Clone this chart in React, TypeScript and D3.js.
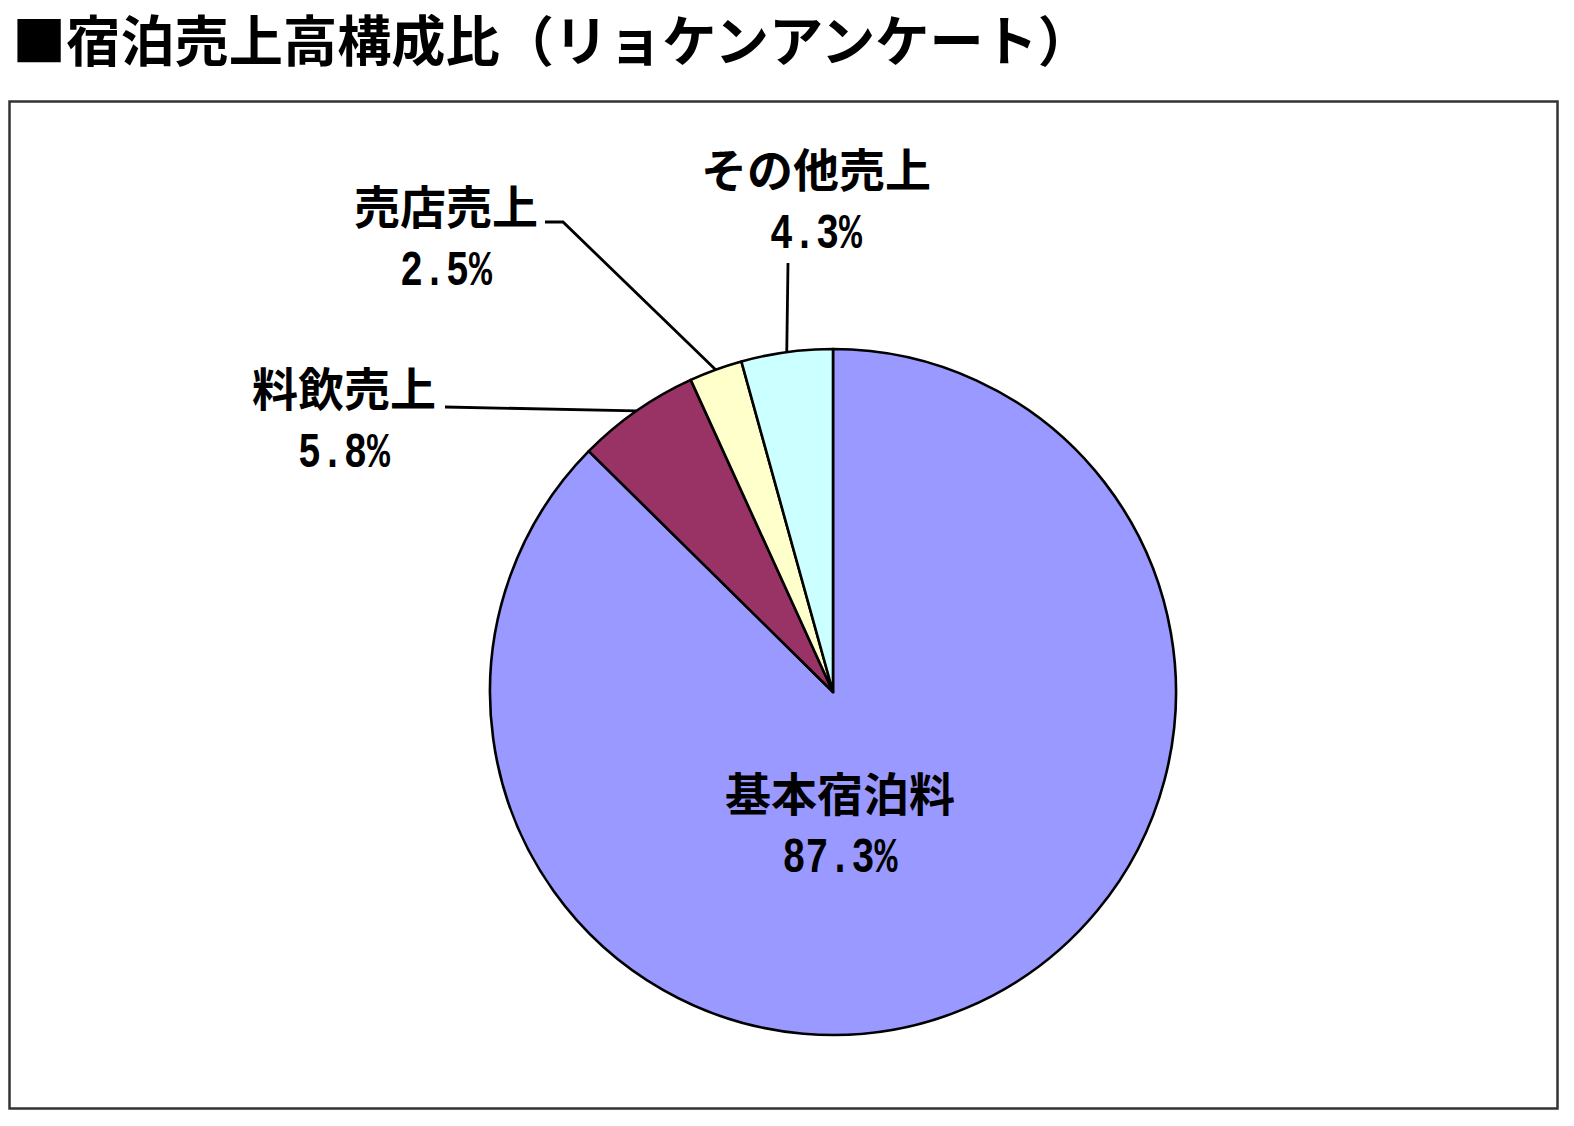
import React from "react";
import * as d3 from "d3";

const categories = ["基本宿泊料", "料飲売上", "売店売上", "その他売上"];
const values = [87.3, 5.8, 2.5, 4.3];
const valueLabels = ["87.3%", "5.8%", "2.5%", "4.3%"];
const colors = ["#9999FF", "#993366", "#FFFFCC", "#CCFFFF"];
const title = "■宿泊売上高構成比（リョケンアンケート）";

const W = 1574;
const H = 1126;
const cx = 833;
const cy = 692;
const R = 343;

// label anchor positions (text center x, name baseline y)
const labelPos = [
  { x: 840, y: 811 },
  { x: 344, y: 406 },
  { x: 446, y: 224 },
  { x: 816, y: 187 },
];
// leader line starts (label side)
const leaderStart: [number, number][][] = [
  [],
  [[445, 407]],
  [[545, 222], [563, 222]],
  [[788, 263]],
];

const cjk = "'Noto Sans CJK JP', 'Noto Sans', sans-serif";
const mono = "'Liberation Mono', 'DejaVu Sans Mono', monospace";

export default function App() {
  const pie = d3.pie<number>().sort(null).value((d) => d).startAngle(0).endAngle(2 * Math.PI);
  const arcs = pie(values);
  const arc = d3.arc<d3.PieArcDatum<number>>().innerRadius(0).outerRadius(R);

  return (
    <svg
      width={W}
      height={H}
      style={{ position: "absolute", left: 0, top: 0, background: "#fff" }}
    >
      <rect x={0} y={0} width={W} height={H} fill="#fff" />
      <text
        x={12}
        y={61}
        fontFamily={cjk}
        fontWeight={700}
        fontSize={54.2}
        fill="#000"
      >
        {title}
      </text>
      <rect x={9.5} y={101.5} width={1548} height={1007} fill="#fff" stroke="#333" strokeWidth={2.5} />
      <g transform={`translate(${cx},${cy})`}>
        {arcs.map((a, i) => (
          <path key={i} d={arc(a) || ""} fill={colors[i]} stroke="#000" strokeWidth={2.6} strokeLinejoin="round" />
        ))}
      </g>
      {arcs.map((a, i) => {
        const pts = leaderStart[i];
        if (!pts || pts.length === 0) return null;
        const mid = (a.startAngle + a.endAngle) / 2;
        const ex = cx + R * Math.sin(mid);
        const ey = cy - R * Math.cos(mid);
        const all: [number, number][] = [...pts, [ex, ey]];
        return (
          <path
            key={"l" + i}
            d={d3.line()(all) || ""}
            fill="none"
            stroke="#000"
            strokeWidth={2.8}
          />
        );
      })}
      {categories.map((c, i) => {
        const p = labelPos[i];
        const lbl = valueLabels[i];
        return (
          <g key={"t" + i}>
            <text
              x={p.x}
              y={p.y}
              textAnchor="middle"
              fontFamily={cjk}
              fontWeight={700}
              fontSize={46}
              fill="#000"
            >
              {c}
            </text>
            <text
              x={p.x}
              y={p.y + 61}
              textAnchor="middle"
              fontFamily={mono}
              fontWeight={700}
              fontSize={50}
              textLength={lbl.length * 23}
              lengthAdjust="spacingAndGlyphs"
              fill="#000"
            >
              {lbl}
            </text>
          </g>
        );
      })}
    </svg>
  );
}
